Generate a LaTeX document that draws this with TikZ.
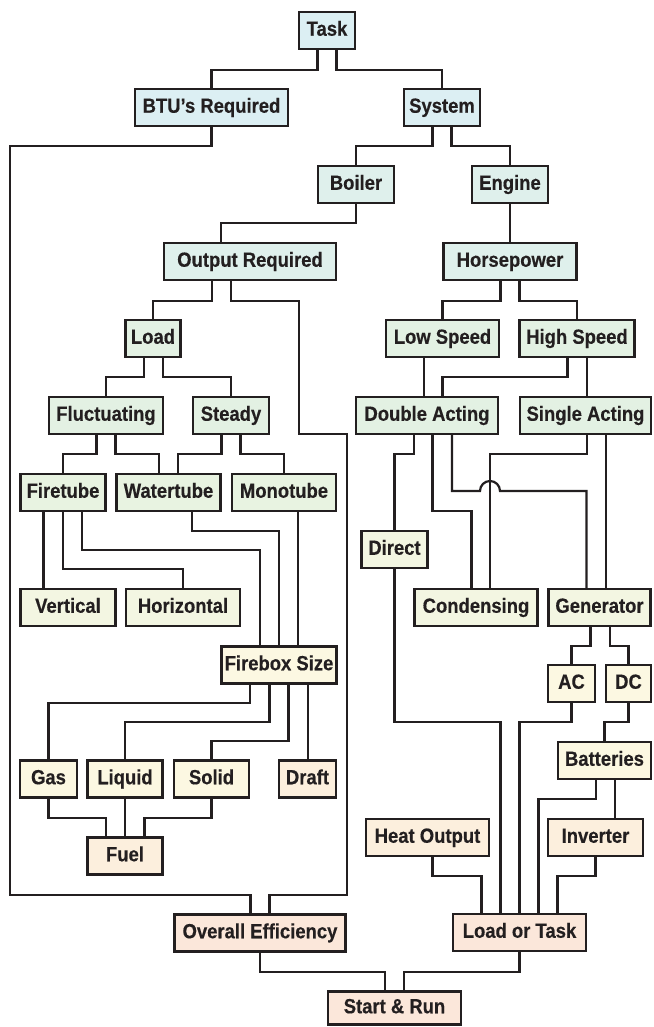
\documentclass[tikz,border=0pt]{standalone}
\usepackage{fontspec}
\setmainfont{Liberation Sans}[FakeStretch=0.9, FakeBold=0.4]
\usepackage{tikz}

\definecolor{ink}{HTML}{231F20}
\definecolor{shadeA}{HTML}{DCEFF3}
\definecolor{shadeB}{HTML}{DFF0EC}
\definecolor{shadeC}{HTML}{E3F1E3}
\definecolor{shadeD}{HTML}{E8F3E1}
\definecolor{shadeE}{HTML}{F3F6E2}
\definecolor{shadeF}{HTML}{FCF8E2}
\definecolor{shadeG}{HTML}{FCEFDD}
\definecolor{shadeH}{HTML}{FBE7DA}

\tikzstyle{block} = [rectangle, draw=ink, line width=2.2pt, inner sep=0pt, minimum height=37pt, text height=15pt, text depth=4.5pt, text centered, text=ink, font=\bfseries\fontsize{20.5}{23}\selectfont]
\tikzstyle{cyanbox} = [block, fill=shadeA]
\tikzstyle{tealbox} = [block, fill=shadeB]
\tikzstyle{greenbox} = [block, fill=shadeC]
\tikzstyle{limebox} = [block, fill=shadeD]
\tikzstyle{palebox} = [block, fill=shadeE]
\tikzstyle{creambox} = [block, fill=shadeF]
\tikzstyle{tanbox} = [block, fill=shadeG]
\tikzstyle{peachbox} = [block, fill=shadeH]
\tikzstyle{wire} = [line width=2.2pt, draw=ink]

\begin{document}
\begin{tikzpicture}[node distance=77pt, x=1pt, y=-1pt]
\useasboundingbox (0,0) rectangle (653,1027);

% boiler side
\node (task) [cyanbox, minimum width=56pt] at (327,30.5) {Task};
\node (btu) [cyanbox, minimum width=153pt, below of=task, xshift=-115.5] {BTU’s Required};
\node (sys) [cyanbox, minimum width=76pt, below of=task, xshift=115] {System};
\node (boiler) [tealbox, minimum width=76pt, below of=sys, xshift=-86] {Boiler};
\node (engine) [tealbox, minimum width=76pt, below of=sys, xshift=68] {Engine};
\node (outreq) [tealbox, minimum width=172pt, below of=boiler, xshift=-106] {Output Required};
\node (hp) [tealbox, minimum width=133pt, below of=engine] {Horsepower};
\node (load) [greenbox, minimum width=55pt, below of=outreq, xshift=-97] {Load};
\node (fluct) [greenbox, minimum width=114pt, below of=load, xshift=-47] {Fluctuating};
\node (steady) [greenbox, minimum width=76pt, below of=load, xshift=78] {Steady};
\node (fire) [limebox, minimum width=85pt, below of=fluct, xshift=-43] {Firetube};
\node (water) [limebox, minimum width=104pt, below of=fluct, xshift=62.5] {Watertube};
\node (mono) [limebox, minimum width=104.5pt, below of=steady, xshift=53] {Monotube};
\node (vert) [palebox, minimum width=95pt, below of=fire, xshift=5, yshift=-38] {Vertical};
\node (horiz) [palebox, minimum width=114pt, below of=water, xshift=14.5, yshift=-38] {Horizontal};
\node (firebox) [creambox, minimum width=115pt, below of=mono, xshift=-5, yshift=-95.5] {Firebox Size};
\node (gas) [creambox, minimum width=56.5pt, below of=firebox, xshift=-230.5, yshift=-37] {Gas};
\node (liquid) [creambox, minimum width=75pt, below of=firebox, xshift=-154, yshift=-37] {Liquid};
\node (solid) [creambox, minimum width=75pt, below of=firebox, xshift=-67.5, yshift=-37] {Solid};
\node (draft) [tanbox, minimum width=56.5pt, below of=firebox, xshift=28.5, yshift=-37] {Draft};
\node (fuel) [tanbox, minimum width=75pt, below of=liquid] {Fuel};
\node (oe) [peachbox, minimum width=171pt, below of=fuel, xshift=135] {Overall Efficiency};

% engine side
\node (lowsp) [greenbox, minimum width=113pt, below of=hp, xshift=-67.5] {Low Speed};
\node (highsp) [greenbox, minimum width=115pt, below of=hp, xshift=67] {High Speed};
\node (da) [greenbox, minimum width=142pt, below of=lowsp, xshift=-15.5] {Double Acting};
\node (sa) [greenbox, minimum width=131pt, below of=highsp, xshift=8.5] {Single Acting};
\node (direct) [palebox, minimum width=66pt, below of=da, xshift=-32.5, yshift=-57] {Direct};
\node (cond) [palebox, minimum width=123pt, below of=da, xshift=49, yshift=-115] {Condensing};
\node (gen) [palebox, minimum width=102pt, below of=sa, xshift=14, yshift=-115] {Generator};
\node (ac) [creambox, minimum width=46.5pt, below of=gen, xshift=-28, yshift=1] {AC};
\node (dc) [creambox, minimum width=45pt, below of=gen, xshift=29, yshift=1] {DC};
\node (bat) [creambox, minimum width=92.5pt, below of=dc, xshift=-24] {Batteries};
\node (heatout) [tanbox, minimum width=123pt, below of=bat, xshift=-177] {Heat Output};
\node (inv) [tanbox, minimum width=94.5pt, below of=bat, xshift=-9] {Inverter};
\node (lot) [peachbox, minimum width=133pt, below of=inv, xshift=-76, yshift=-18] {Load or Task};
\node (start) [peachbox, minimum width=133pt, minimum height=33pt, below of=oe, xshift=134.5, yshift=2] {Start \& Run};
\coordinate (hop) at (490,491);

% links, top half
\draw [wire] ([xshift=-9.5]task.south) -- ++(0,20) -| (btu.north);
\draw [wire] ([xshift=9.5]task.south) -- ++(0,20) -| (sys.north);
\draw [wire] (btu.south) -- ++(0,19) -| ++(-201.5,749) -| ([xshift=-9.5]oe.north);
\draw [wire] ([xshift=-9.5]sys.south) -- ++(0,19) -| (boiler.north);
\draw [wire] ([xshift=9.5]sys.south) -- ++(0,19) -| (engine.north);
\draw [wire] (boiler.south) -- ++(0,19) -| ([xshift=-29]outreq.north);
\draw [wire] (engine.south) -- (hp.north);
\draw [wire] ([xshift=-38]outreq.south) -- ++(0,20) -| (load.north);
\draw [wire] ([xshift=-19]outreq.south) -- ++(0,20) -| ++(68,133) -| ++(48,461) -| ([xshift=9.5]oe.north);
\draw [wire] ([xshift=-9]load.south) -- ++(0,19) -| (fluct.north);
\draw [wire] ([xshift=10]load.south) -- ++(0,19) -| (steady.north);
\draw [wire] ([xshift=-9.5]fluct.south) -- ++(0,19) -| (fire.north);
\draw [wire] ([xshift=9.5]fluct.south) -- ++(0,19) -| ([xshift=-9.5]water.north);
\draw [wire] ([xshift=-9.5]steady.south) -- ++(0,19) -| ([xshift=9.5]water.north);
\draw [wire] ([xshift=9.5]steady.south) -- ++(0,19) -| (mono.north);
\draw [wire] ([xshift=-19.5]fire.south) -- ([xshift=-19.5]fire.south |- vert.north);
\draw [wire] (fire.south) -- ++(0,57) -| (horiz.north);
\draw [wire] ([xshift=19]fire.south) -- ++(0,38) -| ([xshift=-19]firebox.north);
\draw [wire] ([xshift=23.5]water.south) -- ++(0,19) -| (firebox.north);
\draw [wire] ([xshift=14]mono.south) -- ([xshift=14]mono.south |- firebox.north);
\draw [wire] ([xshift=-29]firebox.south) -- ++(0,18.5) -| (gas.north);
\draw [wire] ([xshift=-9.5]firebox.south) -- ++(0,37.5) -| (liquid.north);
\draw [wire] ([xshift=9.5]firebox.south) -- ++(0,56.5) -| (solid.north);
\draw [wire] ([xshift=29]firebox.south) -- ([xshift=29]firebox.south |- draft.north);
\draw [wire] (gas.south) -- ++(0,19.5) -| ([xshift=-19]fuel.north);
\draw [wire] (liquid.south) -- (fuel.north);
\draw [wire] (solid.south) -- ++(0,19.5) -| ([xshift=19.5]fuel.north);

% links, engine side
\draw [wire] ([xshift=-9.5]hp.south) -- ++(0,20) -| (lowsp.north);
\draw [wire] ([xshift=9.5]hp.south) -- ++(0,20) -| (highsp.north);
\draw [wire] ([xshift=-18.5]lowsp.south) -- ([xshift=-18.5]lowsp.south |- da.north);
\draw [wire] ([xshift=-9.5]highsp.south) -- ++(0,19) -| ([xshift=15.5]da.north);
\draw [wire] ([xshift=10]highsp.south) -- ([xshift=10]highsp.south |- sa.north);
\draw [wire] ([xshift=-13]da.south) -- ++(0,18.5) -| (direct.north);
\draw [wire] ([xshift=5.5]da.south) -- ++(0,76) -| ([xshift=-4.5]cond.north);
\draw [wire] ([xshift=25]da.south) |- ([xshift=-10]hop) arc [start angle=180, end angle=0, radius=10pt] -| ([xshift=-13]gen.north);
\draw [wire] ([xshift=1.5]sa.south) -- ++(0,18.5) -| ([xshift=14]cond.north);
\draw [wire] ([xshift=20.5]sa.south) -- ([xshift=20.5]sa.south |- gen.north);
\draw [wire] ([xshift=-9]gen.south) -- ++(0,19) -| (ac.north);
\draw [wire] ([xshift=10.5]gen.south) -- ++(0,19) -| (dc.north);
\draw [wire] (ac.south) -- ++(0,19) -| (lot.north);
\draw [wire] (direct.south) -- ++(0,153) -| ([xshift=-19]lot.north);
\draw [wire] (dc.south) -- ++(0,19) -| (bat.north);
\draw [wire] ([xshift=-8.5]bat.south) -- ++(0,18.5) -| ([xshift=19]lot.north);
\draw [wire] ([xshift=10.5]bat.south) -- ([xshift=10.5]bat.south |- inv.north);
\draw [wire] ([xshift=5]heatout.south) -- ++(0,19) -| ([xshift=-38]lot.north);
\draw [wire] (inv.south) -- ++(0,19) -| ([xshift=38]lot.north);

% last row
\draw [wire] (oe.south) -- ++(0,19) -| ([xshift=-9.5]start.north);
\draw [wire] (lot.south) -- ++(0,19.5) -| ([xshift=9.5]start.north);
\end{tikzpicture}
\end{document}
